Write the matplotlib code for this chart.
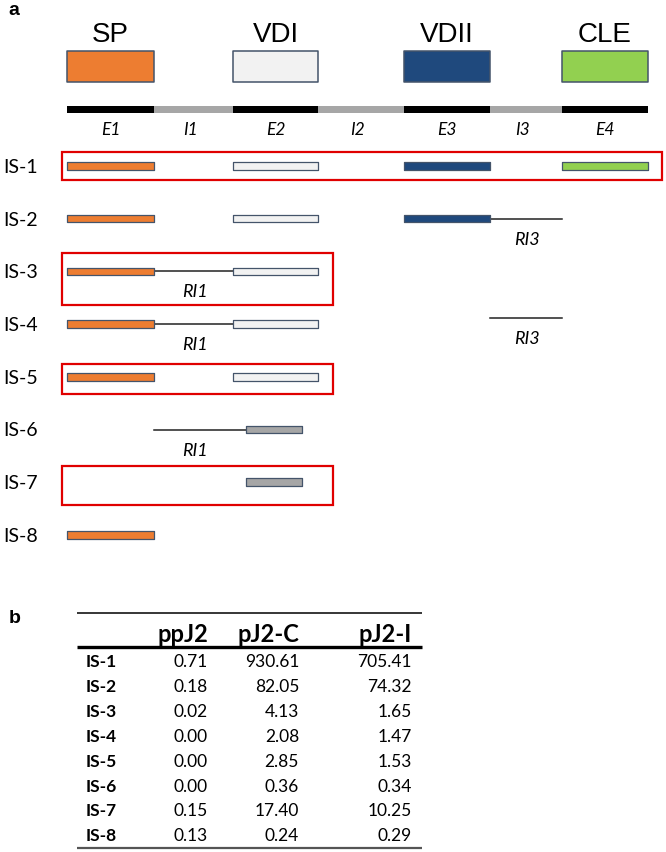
import matplotlib.pyplot as plt

# exon layout along the schematic gene (pixel-like units)
exon_names = ['E1', 'E2', 'E3', 'E4']
intron_names = ['I1', 'I2', 'I3']
exon_start = [67, 233, 404, 562]
exon_end = [154, 318, 490, 648]
domain_names = ['SP', 'VDI', 'VDII', 'CLE']
domain_colors = ['#ED7D31', '#F2F2F2', '#1F497D', '#92D050']

# isoforms: which exons, retained introns, partial exon
isoforms = ['IS-1', 'IS-2', 'IS-3', 'IS-4', 'IS-5', 'IS-6', 'IS-7', 'IS-8']
iso_exons = [[0, 1, 2, 3], [0, 1, 2], [0, 1], [0, 1], [0, 1], [], [], [0]]
iso_retained = [[], [2], [0], [0, 2], [], [0], [], []]   # intron index
iso_partial = [None, None, None, None, None, (246, 302), (246, 302), None]
highlight = [0, 2, 4, 6]

# table values
cols = ['ppJ2', 'pJ2-C', 'pJ2-I']
ppJ2 = [0.71, 0.18, 0.02, 0.00, 0.00, 0.00, 0.15, 0.13]
pJ2_C = [930.61, 82.05, 4.13, 2.08, 2.85, 0.36, 17.40, 0.24]
pJ2_I = [705.41, 74.32, 1.65, 1.47, 1.53, 0.34, 10.25, 0.29]

plt.rcParams['font.family'] = ['Lato', 'DejaVu Sans']
fig = plt.figure(figsize=(6.66, 8.52), dpi=100)
ax = fig.add_axes([0, 0, 1, 1])
ax.set_xlim(0, 666)
ax.set_ylim(852, 0)
ax.axis('off')

edge = '#44546A'
ax.text(14, 15, 'a', fontsize=14, fontweight='bold', family='Liberation Sans', ha='center', va='baseline')
ax.text(15, 623, 'b', fontsize=14, fontweight='bold', family='Liberation Sans', ha='center', va='baseline')

# domain boxes and titles
for i in range(4):
    w = exon_end[i] - exon_start[i]
    ax.broken_barh([(exon_start[i], w)], (51, 31), facecolors=domain_colors[i],
                   edgecolors=edge, linewidth=1.1)
    ax.text(exon_start[i] + w / 2, 42, domain_names[i], fontsize=20, family='Liberation Sans',
            ha='center', va='baseline')

# gene bar
for i in range(4):
    ax.broken_barh([(exon_start[i], exon_end[i] - exon_start[i])], (106, 7), facecolors='black')
    ax.text((exon_start[i] + exon_end[i]) / 2, 135, exon_names[i], fontsize=12.5,
            style='italic', ha='center', va='baseline')
for i in range(3):
    ax.broken_barh([(exon_end[i], exon_start[i + 1] - exon_end[i])], (106, 7), facecolors='#A6A6A6')
    ax.text((exon_end[i] + exon_start[i + 1]) / 2 - 3, 135, intron_names[i], fontsize=12.5,
            style='italic', ha='center', va='baseline')

# isoform rows
row_y = [166 + 52.7 * i for i in range(8)]
box_ext = {0: (62, 662, 14, 14), 2: (62, 333, 18, 34), 4: (62, 333, 13, 17), 6: (62, 333, 16, 23)}
h = 7.5
for r, name in enumerate(isoforms):
    y = row_y[r]
    ax.text(3, y + 7, name, fontsize=14, ha='left', va='baseline')
    for k in iso_retained[r]:
        x0 = exon_end[k]
        x1 = exon_start[k + 1]
        ly = y
        if r == 3 and k == 2:
            ly = y - 6
        if iso_partial[r] is not None:
            x1 = iso_partial[r][0]
        ax.plot([x0, x1], [ly, ly], color='#222222', lw=1.1, zorder=1)
        ax.text((exon_end[k] + exon_start[k + 1]) / 2 + 1, ly + 26, 'RI%d' % (k + 1),
                fontsize=13, style='italic', ha='center', va='baseline')
    for e in iso_exons[r]:
        ax.broken_barh([(exon_start[e], exon_end[e] - exon_start[e])], (y - h / 2, h),
                       facecolors=domain_colors[e], edgecolors=edge, linewidth=0.9, zorder=2)
    if iso_partial[r] is not None:
        p0, p1 = iso_partial[r]
        ax.broken_barh([(p0, p1 - p0)], (y - h / 2, h), facecolors='#A6A6A6',
                       edgecolors=edge, linewidth=0.9, zorder=2)
    if r in highlight:
        x0, x1, up, dn = box_ext[r]
        ax.add_patch(plt.Rectangle((x0, y - up), x1 - x0, up + dn, fill=False,
                                   edgecolor='#E00000', linewidth=1.6))

# table
ax.hlines(613, 77, 422, color='black', lw=1.1)
ax.hlines(646.5, 77, 422, color='black', lw=2.4)
ax.hlines(848, 77, 422, color='#555555', lw=1.6)
col_right = [208, 299, 412]
for c, name in enumerate(cols):
    ax.text(col_right[c], 642, name, fontsize=17, fontweight='bold', ha='right', va='baseline')
vals = [ppJ2, pJ2_C, pJ2_I]
for r, name in enumerate(isoforms):
    yb = 661 + 24.9 * r + 6
    ax.text(86, yb, name, fontsize=12.5, fontweight='bold', ha='left', va='baseline')
    for c in range(3):
        ax.text(col_right[c], yb, '%.2f' % vals[c][r], fontsize=12.5, ha='right', va='baseline')

fig.savefig('out.png', dpi=100)
